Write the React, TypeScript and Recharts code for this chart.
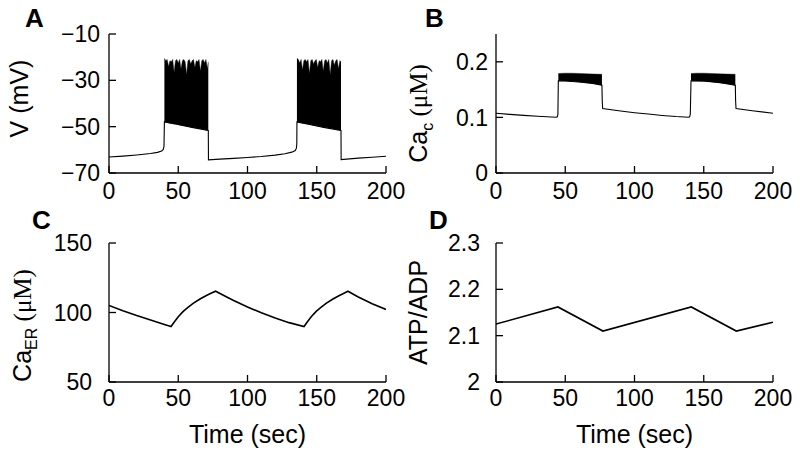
import React from "react";
import { ComposedChart, Line, Area, XAxis, YAxis, Label } from "recharts";

// shared time axis
const timeTicks = [0, 50, 100, 150, 200];

// A: membrane potential (mV)
const vTicks = [-70, -50, -30, -10];
const vTrace: [number, number][] = [
  [0, -63.1], [10, -62.7], [20, -62.2], [30, -61.6], [35, -61.1], [38, -60.5],
  [39.2, -59.8], [39.7, -58.5], [40, -48], [50, -49.1], [60, -50.3], [71.7, -51.6],
  [71.8, -64.3], [80, -64.0], [90, -63.7], [100, -63.3], [110, -62.9], [120, -62.3],
  [127, -61.7], [132, -61.0], [134.5, -60.3], [135.3, -59.3], [135.6, -57.5],
  [135.7, -48], [145, -49.1], [155, -50.3], [167.5, -51.6], [167.6, -64.2],
  [180, -63.6], [190, -63.2], [200, -62.8],
];
// spike envelopes during the bursts: [t, trough, peak]
const vBurst1: [number, number, number][] = [
  [40, -48.0, -20.5], [41, -48.1, -21.5], [42, -48.2, -21], [43, -48.3, -24],
  [44, -48.5, -21.5], [45, -48.6, -22], [46, -48.7, -21], [47, -48.8, -26.5],
  [48, -48.9, -21.5], [49, -49.0, -21], [50, -49.1, -22.5], [51, -49.3, -21],
  [52, -49.4, -25], [53, -49.5, -21.5], [54, -49.6, -21], [55, -49.7, -22],
  [56, -49.8, -27.5], [57, -49.9, -21.5], [58, -50.0, -21], [59, -50.2, -23],
  [60, -50.3, -21.5], [61, -50.4, -21], [62, -50.5, -24.5], [63, -50.6, -21.5],
  [64, -50.7, -22], [65, -50.8, -21], [66, -50.9, -26], [67, -51.1, -21.5],
  [68, -51.2, -21], [69, -51.3, -22.5], [70, -51.4, -21], [71, -51.5, -25],
  [71.7, -51.6, -22],
];
const vBurst2: [number, number, number][] = [
  [135.7, -48.0, -20.5], [136.7, -48.1, -21], [137.7, -48.2, -22.5], [138.7, -48.3, -21],
  [139.7, -48.5, -25.5], [140.7, -48.6, -21.5], [141.7, -48.7, -21], [142.7, -48.8, -22],
  [143.7, -48.9, -21], [144.7, -49.0, -27], [145.7, -49.1, -21.5], [146.7, -49.3, -21],
  [147.7, -49.4, -23], [148.7, -49.5, -21.5], [149.7, -49.6, -21], [150.7, -49.7, -24.5],
  [151.7, -49.8, -21.5], [152.7, -49.9, -22], [153.7, -50.0, -21], [154.7, -50.2, -26],
  [155.7, -50.3, -21.5], [156.7, -50.4, -21], [157.7, -50.5, -22.5], [158.7, -50.6, -21],
  [159.7, -50.7, -27.5], [160.7, -50.8, -21.5], [161.7, -50.9, -21], [162.7, -51.1, -23.5],
  [163.7, -51.2, -21.5], [164.7, -51.3, -21], [165.7, -51.4, -25], [166.7, -51.5, -21.5],
  [167.5, -51.6, -22],
];

// B: cytosolic calcium (uM)
const caTicks = [0, 0.1, 0.2];
const caTrace: [number, number][] = [
  [0, 0.1074], [10, 0.1055], [20, 0.1037], [30, 0.1021], [40, 0.1007], [43.5, 0.1002],
  [44.3, 0.101], [44.7, 0.106], [45, 0.166], [50, 0.1655], [60, 0.1638], [70, 0.161],
  [76.5, 0.158], [76.7, 0.13], [77, 0.116], [90, 0.1115], [100, 0.1085], [110, 0.106],
  [120, 0.1035], [130, 0.1015], [139, 0.1002], [139.8, 0.101], [140.3, 0.106],
  [140.8, 0.166], [150, 0.1655], [160, 0.1635], [172.8, 0.158], [173, 0.13],
  [173.3, 0.116], [185, 0.112], [200, 0.1075],
];
const caBurst1: [number, number, number][] = [
  [45, 0.166, 0.179], [50, 0.1655, 0.1795], [55, 0.1648, 0.1795], [60, 0.1638, 0.179],
  [65, 0.1625, 0.1785], [70, 0.161, 0.178], [76.5, 0.158, 0.1775],
];
const caBurst2: [number, number, number][] = [
  [140.8, 0.166, 0.179], [145, 0.1655, 0.1795], [150, 0.1648, 0.1795], [155, 0.1638, 0.179],
  [160, 0.1625, 0.1785], [166, 0.161, 0.178], [172.8, 0.158, 0.1775],
];

// C: ER calcium (uM)
const erTicks = [50, 100, 150];
const erTrace: [number, number][] = [
  [0, 105.1], [10, 101.3], [20, 97.8], [30, 94.6], [40, 91.4], [44.8, 89.9],
  [47, 93.0], [50, 96.9], [53.6, 100.8], [57, 103.7], [61, 106.7], [65.7, 109.7],
  [70, 112.1], [74, 114.0], [77, 115.3], [85, 111.2], [90, 108.7], [100, 104.0],
  [110, 99.8], [120, 96.0], [130, 92.7], [140.8, 89.9], [143, 93.0], [146, 96.9],
  [149.6, 100.8], [153, 103.7], [157, 106.7], [161.7, 109.7], [166, 112.1],
  [170, 114.0], [172.5, 115.3], [180, 111.2], [190, 106.3], [200, 102.2],
];

// D: ATP/ADP ratio
const atpTicks = [2, 2.1, 2.2, 2.3];
const atpTrace: [number, number][] = [
  [0, 2.125], [44.7, 2.162], [77.2, 2.11], [141, 2.162], [173.5, 2.11], [200, 2.129],
];

const toLine = (rows: [number, number][]) => rows.map(([t, v]) => ({ t, v }));
const toBand = (rows: [number, number, number][]) =>
  rows.map(([t, lo, hi]) => ({ t, band: [lo, hi] }));

const FONT = "'Liberation Sans', Arial, Helvetica, sans-serif";
const SERIF = "'Liberation Serif', 'Times New Roman', serif";

const tickStyle = { fill: "#000", fontSize: 23, fontFamily: FONT };
const axisLine = { stroke: "#000", strokeWidth: 1.3 };
const minus = (v: number) => String(v).replace("-", "\u2212");

const YTitle = ({ x, y, children }: { x: number; y: number; children: React.ReactNode }) => (
  <text
    x={x}
    y={y}
    transform={`rotate(-90, ${x}, ${y})`}
    textAnchor="middle"
    fontFamily={FONT}
    fontSize={25}
    fill="#000"
  >
    {children}
  </text>
);

const XTitle = ({ x, y }: { x: number; y: number }) => (
  <text x={x} y={y} textAnchor="middle" fontFamily={FONT} fontSize={25} fill="#000">
    Time (sec)
  </text>
);

const xAxisProps = {
  type: "number" as const,
  dataKey: "t",
  domain: [0, 200],
  ticks: timeTicks,
  allowDataOverflow: true,
  tickSize: -7,
  tick: tickStyle,
  axisLine,
  tickLine: axisLine,
  stroke: "#000",
  interval: 0 as const,
};

const yAxisProps = {
  type: "number" as const,
  allowDataOverflow: true,
  tickSize: -7,
  tick: tickStyle,
  axisLine,
  tickLine: axisLine,
  stroke: "#000",
  interval: 0 as const,
};

const bandStyle = {
  type: "linear" as const,
  fill: "#000",
  fillOpacity: 1,
  stroke: "#000",
  strokeWidth: 0.4,
  isAnimationActive: false,
};

const Letter = ({ x, y, c }: { x: number; y: number; c: string }) => (
  <text x={x} y={y} fontFamily={FONT} fontWeight="bold" fontSize={26} fill="#000">
    {c}
  </text>
);

export default function App() {
  return (
    <div style={{ position: "relative", width: 800, height: 457, background: "#fff", overflow: "hidden" }}>
      <style>{"body{margin:0}"}</style>

      {/* A */}
      <div style={{ position: "absolute", left: 0, top: 0 }}>
        <ComposedChart width={420} height={230} margin={{ top: 34, right: 34, bottom: 0, left: 0 }}>
          <XAxis {...xAxisProps} height={57} tickMargin={17} />
          <YAxis {...yAxisProps} domain={[-70, -10]} ticks={vTicks} width={109} tickMargin={16} tickFormatter={minus}>
            <Label content={() => <YTitle x={28} y={98.5}>V (mV)</YTitle>} />
          </YAxis>
          <Area data={toBand(vBurst1)} dataKey="band" {...bandStyle} />
          <Area data={toBand(vBurst2)} dataKey="band" {...bandStyle} />
          <Line data={toLine(vTrace)} dataKey="v" type="linear" stroke="#000" strokeWidth={1.1} dot={false} isAnimationActive={false} />
        </ComposedChart>
      </div>

      {/* B */}
      <div style={{ position: "absolute", left: 400, top: 0 }}>
        <ComposedChart width={400} height={230} margin={{ top: 34, right: 27, bottom: 0, left: 0 }}>
          <XAxis {...xAxisProps} height={57} tickMargin={17} />
          <YAxis {...yAxisProps} domain={[0, 0.25]} ticks={caTicks} width={96} tickMargin={15}>
            <Label
              content={() => (
                <YTitle x={27} y={113.5}>
                  Ca
                  <tspan fontSize={16} dy={6}>c</tspan>
                  <tspan dy={-6} fontFamily={SERIF}> (μM)</tspan>
                </YTitle>
              )}
            />
          </YAxis>
          <Area data={toBand(caBurst1)} dataKey="band" {...bandStyle} />
          <Area data={toBand(caBurst2)} dataKey="band" {...bandStyle} />
          <Line data={toLine(caTrace)} dataKey="v" type="linear" stroke="#000" strokeWidth={1.1} dot={false} isAnimationActive={false} />
        </ComposedChart>
      </div>

      {/* C */}
      <div style={{ position: "absolute", left: 0, top: 220 }}>
        <ComposedChart width={420} height={237} margin={{ top: 23, right: 34, bottom: 0, left: 0 }}>
          <XAxis {...xAxisProps} height={75} tickMargin={15}>
            <Label content={() => <XTitle x={247.5} y={222.7} />} />
          </XAxis>
          <YAxis {...yAxisProps} domain={[50, 150]} ticks={erTicks} width={109} tickMargin={24}>
            <Label
              content={() => (
                <YTitle x={31} y={105.5}>
                  Ca
                  <tspan fontSize={16} dy={6}>ER</tspan>
                  <tspan dy={-6} fontFamily={SERIF}> (μM)</tspan>
                </YTitle>
              )}
            />
          </YAxis>
          <Line data={toLine(erTrace)} dataKey="v" type="linear" stroke="#000" strokeWidth={1.6} dot={false} isAnimationActive={false} />
        </ComposedChart>
      </div>

      {/* D */}
      <div style={{ position: "absolute", left: 400, top: 220 }}>
        <ComposedChart width={400} height={237} margin={{ top: 23, right: 27, bottom: 0, left: 0 }}>
          <XAxis {...xAxisProps} height={75} tickMargin={15}>
            <Label content={() => <XTitle x={234.5} y={222.7} />} />
          </XAxis>
          <YAxis {...yAxisProps} domain={[2, 2.3]} ticks={atpTicks} width={96} tickMargin={23}>
            <Label content={() => <YTitle x={27} y={92.5}>ATP/ADP</YTitle>} />
          </YAxis>
          <Line data={toLine(atpTrace)} dataKey="v" type="linear" stroke="#000" strokeWidth={1.6} dot={false} isAnimationActive={false} />
        </ComposedChart>
      </div>

      <svg width={800} height={457} style={{ position: "absolute", left: 0, top: 0, pointerEvents: "none" }}>
        <Letter x={25} y={27} c="A" />
        <Letter x={425} y={27} c="B" />
        <Letter x={32} y={229} c="C" />
        <Letter x={429} y={229} c="D" />
      </svg>
    </div>
  );
}
